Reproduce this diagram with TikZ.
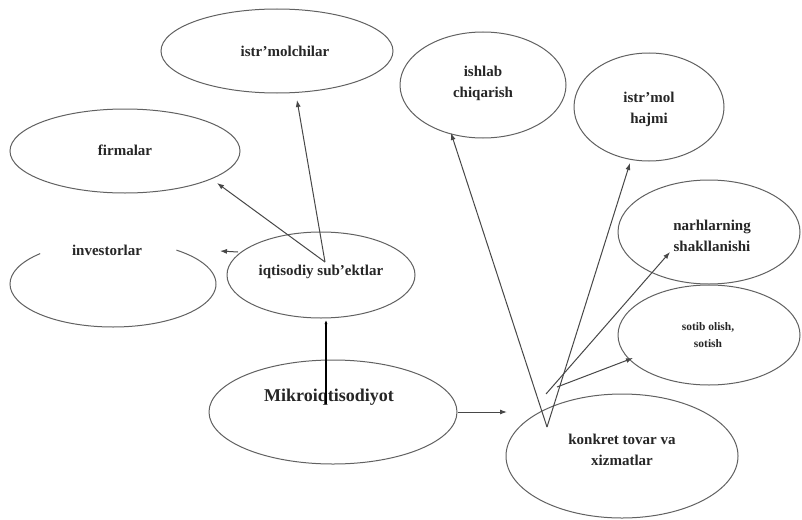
\documentclass[tikz,border=0pt]{standalone}
\usepackage{fontspec}
\setmainfont{Liberation Serif}
\usetikzlibrary{shapes.geometric,arrows.meta}
\begin{document}
\begin{tikzpicture}[x=1pt,y=-1pt,
  ell/.style={draw=black!62, line width=1pt, ellipse, inner sep=0pt},
  lbl/.style={font=\bfseries\fontsize{15}{21}\selectfont, text=black!85, align=center, inner sep=0pt},
  arr/.style={draw=black!72, line width=1pt, -{Latex[length=7pt,width=5pt]}}]
\useasboundingbox[fill=white] (0,0) rectangle (802,519);
% ellipses
\node[ell, minimum width=232pt, minimum height=84pt] (cons) at (277,51) {};
\node[ell, minimum width=230pt, minimum height=84pt] (firm) at (125,151) {};
\draw[draw=black!62, line width=1pt] (113,284) ++(135:103pt and 43pt) coordinate (invs)
   arc[start angle=135, end angle=412, x radius=103pt, y radius=43pt];
\node[ell, minimum width=188pt, minimum height=86pt] (iqt) at (321,275) {};
\node[ell, minimum width=248pt, minimum height=104pt] (mik) at (333,412) {};
\node[ell, minimum width=232pt, minimum height=124pt] (kon) at (622,456) {};
\node[ell, minimum width=166pt, minimum height=106pt] (ish) at (483,85) {};
\node[ell, minimum width=150pt, minimum height=108pt] (haj) at (649,107) {};
\node[ell, minimum width=182pt, minimum height=104pt] (nar) at (709,232) {};
\node[ell, minimum width=182pt, minimum height=100pt] (sot) at (709,335) {};
% labels
\node[lbl] (consT) at (285,51) {istr'molchilar};
\node[lbl] (firmT) at (125,150) {firmalar};
\node[lbl] (invT) at (107,250) {investorlar};
\node[lbl] (iqtT) at (321,272) {iqtisodiy sub'ektlar};
\node[lbl, font=\bfseries\fontsize{18}{21}\selectfont] (mikT) at (329,397) {Mikroiqtisodiyot};
\node[lbl] (konT) at (622,450) {konkret tovar va\\xizmatlar};
\node[lbl] (ishT) at (483,83) {ishlab\\chiqarish};
\node[lbl] (hajT) at (649,109) {istr'mol\\hajmi};
\node[lbl] (narT) at (712,236) {narhlarning\\shakllanishi};
\node[lbl, font=\bfseries\fontsize{11.5}{17}\selectfont] (sotT) at (708,335) {sotib olish,\\sotish};
% connector points
\coordinate (hubA) at (325,262);
\coordinate (pCons) at (297,100);
\coordinate (pFirm) at (217,183);
\coordinate (pInvA) at (238,252);
\coordinate (pInvB) at (220,251);
\coordinate (pMikA) at (326,404);
\coordinate (pIqt) at (326,320);
\coordinate (pKon) at (507,412);
\coordinate (hubB) at (547,427);
\coordinate (hubC) at (546,394);
\coordinate (hubD) at (557,387);
\coordinate (pIsh) at (451,133);
\coordinate (pHaj) at (630,163);
\coordinate (pNar) at (670,252);
\coordinate (pSot) at (633,358);
% connectors
\draw[arr] (hubA) -- (pCons);
\draw[arr] (hubA) -- (pFirm);
\draw[arr] (pInvA) -- (pInvB);
\draw[arr, draw=black, line width=1.4pt, -{Latex[length=4pt,width=3pt]}] (pMikA) -- (pIqt);
\draw[arr] (mik.east) -- (pKon);
\draw[arr] (hubB) -- (pIsh);
\draw[arr] (hubB) -- (pHaj);
\draw[arr] (hubC) -- (pNar);
\draw[arr] (hubD) -- (pSot);
\end{tikzpicture}
\end{document}
